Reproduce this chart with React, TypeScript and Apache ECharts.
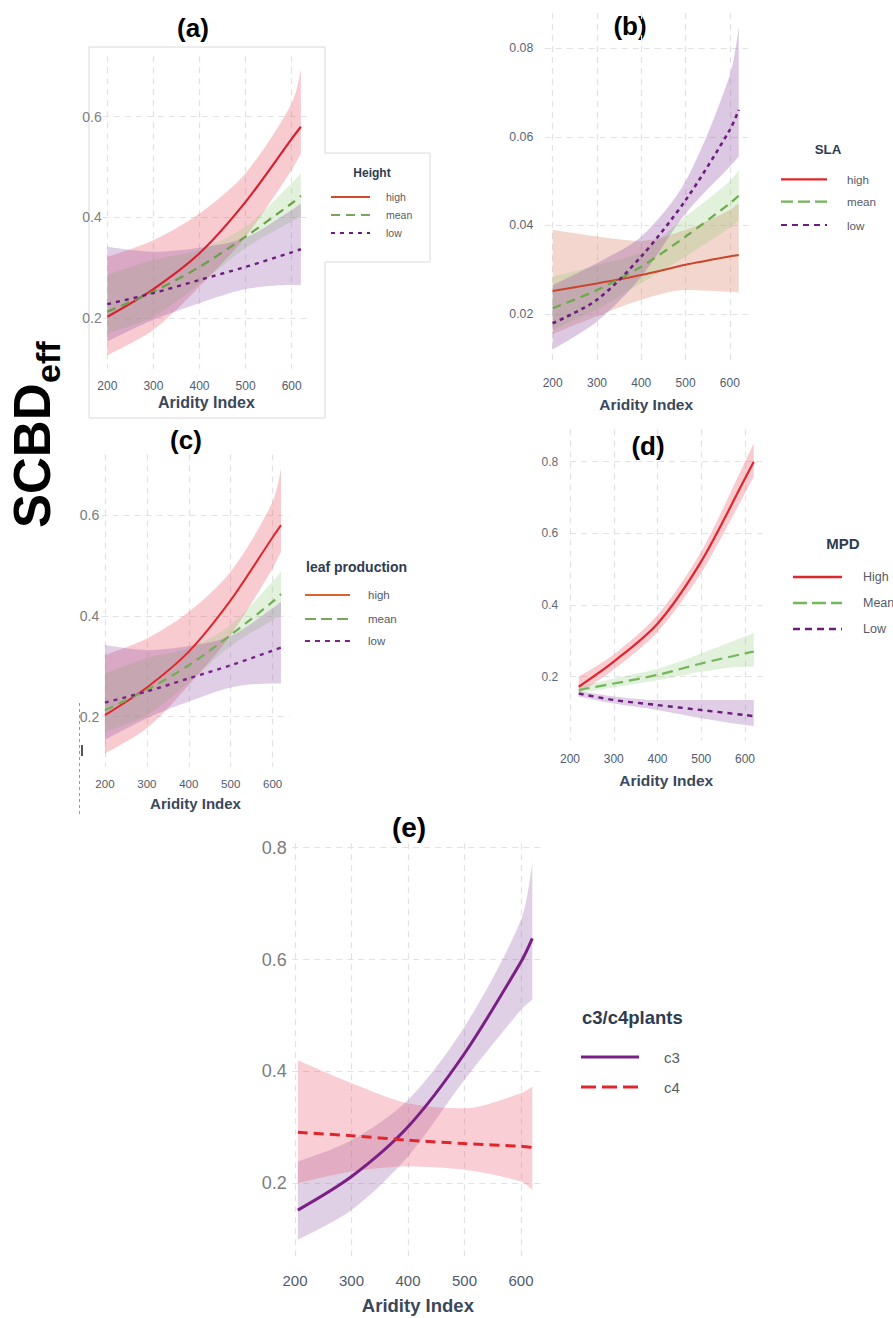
import React, { useEffect, useRef } from "react";
import * as echarts from "echarts";

// ---------- data ----------
const X_TICKS = [200, 300, 400, 500, 600];
const xsAC = [200, 300, 400, 500, 600, 620];
const xsB = [200, 300, 400, 500, 600, 620];
const xsD = [220, 300, 400, 500, 600, 620];
const xsE = [205, 300, 400, 500, 600, 620];

// (a) Height
const aHigh = [0.203, 0.258, 0.329, 0.431, 0.556, 0.58];
const aHighUp = [0.322, 0.355, 0.408, 0.488, 0.626, 0.693];
const aHighLo = [0.127, 0.177, 0.263, 0.362, 0.494, 0.527];
const aMean = [0.213, 0.253, 0.302, 0.362, 0.428, 0.443];
const aMeanUp = [0.286, 0.316, 0.336, 0.382, 0.468, 0.488];
const aMeanLo = [0.17, 0.203, 0.268, 0.34, 0.392, 0.402];
const aLow = [0.228, 0.25, 0.276, 0.302, 0.331, 0.337];
const aLowUp = [0.342, 0.332, 0.34, 0.36, 0.415, 0.428];
const aLowLo = [0.154, 0.197, 0.23, 0.258, 0.266, 0.266];

// (c) leaf production
const cHigh = [0.203, 0.258, 0.329, 0.431, 0.556, 0.58];
const cHighUp = [0.322, 0.355, 0.408, 0.488, 0.626, 0.693];
const cHighLo = [0.127, 0.177, 0.263, 0.362, 0.494, 0.527];
const cMean = [0.213, 0.253, 0.302, 0.362, 0.428, 0.443];
const cMeanUp = [0.286, 0.316, 0.336, 0.382, 0.468, 0.488];
const cMeanLo = [0.17, 0.203, 0.268, 0.34, 0.392, 0.402];
const cLow = [0.228, 0.25, 0.276, 0.302, 0.331, 0.337];
const cLowUp = [0.342, 0.332, 0.34, 0.36, 0.415, 0.428];
const cLowLo = [0.154, 0.197, 0.23, 0.258, 0.266, 0.266];

// (b) SLA
const bHigh = [0.0252, 0.0269, 0.0288, 0.0311, 0.033, 0.0333];
const bHighUp = [0.039, 0.0375, 0.0365, 0.039, 0.0435, 0.045];
const bHighLo = [0.0155, 0.0195, 0.0232, 0.0254, 0.025, 0.0248];
const bMean = [0.0213, 0.0254, 0.0307, 0.0375, 0.045, 0.0467];
const bMeanUp = [0.0284, 0.031, 0.034, 0.042, 0.05, 0.0525];
const bMeanLo = [0.0164, 0.021, 0.027, 0.033, 0.0395, 0.041];
const bLow = [0.0179, 0.0232, 0.033, 0.0457, 0.0616, 0.0661];
const bLowUp = [0.0265, 0.0315, 0.0375, 0.05, 0.074, 0.0849];
const bLowLo = [0.012, 0.0183, 0.0284, 0.0427, 0.0533, 0.0555];

// (d) MPD
const dHigh = [0.172, 0.242, 0.348, 0.522, 0.753, 0.8];
const dHighUp = [0.2, 0.262, 0.372, 0.55, 0.8, 0.851];
const dHighLo = [0.153, 0.22, 0.325, 0.49, 0.712, 0.758];
const dMean = [0.163, 0.181, 0.205, 0.237, 0.265, 0.27];
const dMeanUp = [0.172, 0.195, 0.222, 0.265, 0.312, 0.321];
const dMeanLo = [0.155, 0.17, 0.19, 0.214, 0.228, 0.228];
const dLow = [0.153, 0.135, 0.121, 0.107, 0.093, 0.09];
const dLowUp = [0.16, 0.145, 0.135, 0.135, 0.135, 0.135];
const dLowLo = [0.145, 0.125, 0.107, 0.084, 0.065, 0.062];

// (e) c3/c4 plants
const eC3 = [0.152, 0.212, 0.301, 0.432, 0.596, 0.638];
const eC3Up = [0.239, 0.277, 0.349, 0.48, 0.671, 0.775];
const eC3Lo = [0.099, 0.152, 0.248, 0.385, 0.51, 0.528];
const eC4 = [0.291, 0.285, 0.277, 0.271, 0.266, 0.264];
const eC4Up = [0.42, 0.379, 0.343, 0.334, 0.361, 0.373];
const eC4Lo = [0.2, 0.221, 0.23, 0.224, 0.203, 0.188];

const Y_TICKS_AC = [0.2, 0.4, 0.6];
const Y_TICKS_B = [0.02, 0.04, 0.06, 0.08];
const Y_TICKS_DE = [0.2, 0.4, 0.6, 0.8];

// ---------- styling ----------
const FONT = "'Liberation Sans', Arial, sans-serif";
const RED = "#e0262d";
const PURPLE = "#6c1d7e";
const BAND_RED = "rgba(232, 84, 104, 0.30)";
const BAND_GREEN = "rgba(140, 200, 110, 0.25)";
const BAND_PURPLE = "rgba(140, 80, 160, 0.28)";
const SMOOTH = 0.3;

const gridLine = { show: true, lineStyle: { color: "#e2e2e2", type: [6, 5], width: 1.2 } };

function xAxis(gridIndex: number, min: number, labelSize: number, margin: number, nameSize: number, nameGap: number) {
  return {
    type: "value", gridIndex, min, max: 640,
    axisLine: { show: false },
    axisTick: { show: false, customValues: X_TICKS },
    axisLabel: { customValues: X_TICKS, fontSize: labelSize, color: "#4f5b6e", margin, fontFamily: FONT },
    splitLine: gridLine,
    name: "Aridity Index", nameLocation: "middle", nameGap,
    nameTextStyle: { fontWeight: "bold", fontSize: nameSize, color: "#3b475a", fontFamily: FONT },
  };
}

function yAxis(gridIndex: number, min: number, max: number, ticks: number[], digits: number, labelSize: number, color: string, margin: number) {
  return {
    type: "value", gridIndex, min, max,
    axisLine: { show: false },
    axisTick: { show: false, customValues: ticks },
    axisLabel: {
      customValues: ticks, fontSize: labelSize, color, margin, fontFamily: FONT,
      formatter: (v: number) => v.toFixed(digits),
    },
    splitLine: gridLine,
  };
}

// Confidence band: lower + (upper - lower) stacked on y (y is put first so that it is the stacked dimension)
function band(id: string, idx: number, xs: number[], lo: number[], up: number[], color: string) {
  return [
    {
      type: "line", xAxisIndex: idx, yAxisIndex: idx, stack: id, silent: true,
      data: xs.map((x, i) => [lo[i], x]), encode: { x: 1, y: 0 }, symbol: "none",
      smooth: SMOOTH,
      lineStyle: { opacity: 0, width: 0 }, z: 1,
    },
    {
      type: "line", xAxisIndex: idx, yAxisIndex: idx, stack: id, silent: true,
      data: xs.map((x, i) => [up[i] - lo[i], x]), encode: { x: 1, y: 0 }, symbol: "none",
      smooth: SMOOTH,
      lineStyle: { opacity: 0, width: 0 }, areaStyle: { color, opacity: 1 }, z: 1,
    },
  ];
}

function curve(idx: number, xs: number[], ys: number[], color: string, width: number, type: any) {
  return {
    type: "line", xAxisIndex: idx, yAxisIndex: idx, silent: true,
    data: xs.map((x, i) => [x, ys[i]]), symbol: "none", smooth: SMOOTH,
    lineStyle: { color, width, type }, z: 3,
  };
}

function legend(
  title: string, tx: number, ty: number, tAlign: string, tSize: number,
  labels: string[], colors: string[], dashes: any[], ys: number[],
  lx1: number, lx2: number, textX: number, size: number, lw: number
) {
  const els: any[] = [
    {
      type: "text", x: tx, y: ty,
      style: { text: title, fill: "#2f3c4f", fontSize: tSize, fontWeight: "bold", fontFamily: FONT, align: tAlign, verticalAlign: "middle", textAlign: tAlign, textVerticalAlign: "middle" },
    },
  ];
  labels.forEach((lab, i) => {
    els.push({
      type: "line", shape: { x1: lx1, y1: ys[i], x2: lx2, y2: ys[i] },
      style: { stroke: colors[i], lineWidth: lw, lineDash: dashes[i] },
    });
    els.push({
      type: "text", x: textX, y: ys[i],
      style: { text: lab, fill: "#555b66", fontSize: size, fontFamily: FONT, align: "left", verticalAlign: "middle", textAlign: "left", textVerticalAlign: "middle" },
    });
  });
  return els;
}

function panelLabel(text: string, x: number, y: number, size: number) {
  return {
    type: "text", x, y,
    style: { text, fill: "#000", fontSize: size, fontWeight: "bold", fontFamily: FONT, align: "center", verticalAlign: "middle", textAlign: "center", textVerticalAlign: "middle" },
  };
}

export default function App() {
  const ref = useRef<HTMLDivElement>(null);
  useEffect(() => {
    if (!ref.current) return;
    const chart = echarts.init(ref.current, null, { renderer: "svg" });

    const grids = [
      { left: 102.7, top: 56.2, width: 207.4, height: 312.5 }, // a
      { left: 544.7, top: 12.9, width: 202.9, height: 352 }, // b
      { left: 101.6, top: 454.5, width: 187.8, height: 312.6 }, // c
      { left: 570, top: 429.5, width: 192.5, height: 311 }, // d
      { left: 292.2, top: 843.2, width: 251.4, height: 415 }, // e
    ];

    const xAxes = [
      xAxis(0, 190, 12, 11, 16, 26),
      xAxis(1, 182, 12, 12.5, 15.5, 32),
      xAxis(2, 192, 11.5, 10.4, 15, 28.7),
      xAxis(3, 200, 12, 12, 15.5, 31.7),
      xAxis(4, 195, 15, 14.3, 18.5, 37.5),
    ];
    const yAxes = [
      yAxis(0, 0.1, 0.72, Y_TICKS_AC, 1, 14, "#808080", 1),
      yAxis(1, 0.0085, 0.088, Y_TICKS_B, 2, 12.3, "#5b6576", 11.4),
      yAxis(2, 0.1, 0.72, Y_TICKS_AC, 1, 14, "#7a7a7a", 2.3),
      yAxis(3, 0.022, 0.89, Y_TICKS_DE, 1, 12, "#5f6a7a", 11.7),
      yAxis(4, 0.066, 0.808, Y_TICKS_DE, 1, 18, "#7d7d7d", 5.5),
    ];

    const series: any[] = [
      // (a)
      ...band("aH", 0, xsAC, aHighLo, aHighUp, BAND_RED),
      ...band("aM", 0, xsAC, aMeanLo, aMeanUp, BAND_GREEN),
      ...band("aL", 0, xsAC, aLowLo, aLowUp, BAND_PURPLE),
      curve(0, xsAC, aHigh, "#d8202e", 2.2, "solid"),
      curve(0, xsAC, aMean, "#6b9f4b", 2.2, [9, 6]),
      curve(0, xsAC, aLow, PURPLE, 2.4, [4, 5]),
      // (b)
      ...band("bH", 1, xsB, bHighLo, bHighUp, "rgba(214, 122, 92, 0.30)"),
      ...band("bM", 1, xsB, bMeanLo, bMeanUp, BAND_GREEN),
      ...band("bL", 1, xsB, bLowLo, bLowUp, "rgba(145, 85, 165, 0.32)"),
      curve(1, xsB, bHigh, "#c8462c", 2, "solid"),
      curve(1, xsB, bMean, "#6aaa4b", 2.2, [9, 6]),
      curve(1, xsB, bLow, PURPLE, 2.6, [4, 4]),
      // (c)
      ...band("cH", 2, xsAC, cHighLo, cHighUp, BAND_RED),
      ...band("cM", 2, xsAC, cMeanLo, cMeanUp, BAND_GREEN),
      ...band("cL", 2, xsAC, cLowLo, cLowUp, BAND_PURPLE),
      curve(2, xsAC, cHigh, RED, 2, "solid"),
      curve(2, xsAC, cMean, "#73ad55", 2.2, [9, 6]),
      curve(2, xsAC, cLow, "#7a2489", 2.4, [4, 5]),
      // (d)
      ...band("dH", 3, xsD, dHighLo, dHighUp, BAND_RED),
      ...band("dM", 3, xsD, dMeanLo, dMeanUp, BAND_GREEN),
      ...band("dL", 3, xsD, dLowLo, dLowUp, BAND_PURPLE),
      curve(3, xsD, dHigh, RED, 2.2, "solid"),
      curve(3, xsD, dMean, "#74b65a", 2.2, [11, 6]),
      curve(3, xsD, dLow, PURPLE, 2.4, [5, 5]),
      // (e)
      ...band("eC3", 4, xsE, eC3Lo, eC3Up, "rgba(140, 80, 160, 0.27)"),
      ...band("eC4", 4, xsE, eC4Lo, eC4Up, "rgba(232, 84, 104, 0.28)"),
      curve(4, xsE, eC3, "#7a1f86", 3, "solid"),
      curve(4, xsE, eC4, RED, 3, [10, 6]),
    ];

    const graphic: any[] = [
      {
        type: "polygon", silent: true,
        shape: { points: [[89, 47], [325, 47], [325, 153], [430, 153], [430, 262], [325, 262], [325, 418], [89, 418]] },
        style: { fill: "none", stroke: "#dadada", lineWidth: 1 },
      },
      panelLabel("(a)", 193, 28, 26),
      panelLabel("(b)", 630, 26, 26),
      panelLabel("(c)", 186, 440, 26),
      panelLabel("(d)", 648, 446, 26),
      panelLabel("(e)", 409, 827, 28),
      ...legend("Height", 372, 173, "center", 12, ["high", "mean", "low"], ["#cf4a2b", "#78a55b", PURPLE],
        [null, [9, 6], [4, 5]], [197, 215, 233], 331, 370, 386, 10.5, 2),
      ...legend("SLA", 828, 149, "center", 13.3, ["high", "mean", "low"], ["#e0262c", "#74b35a", PURPLE],
        [null, [12, 5], [6, 5]], [179.3, 201.7, 225], 781, 827, 847, 11.6, 2.2),
      ...legend("leaf production", 306, 567, "left", 14, ["high", "mean", "low"], ["#d9622f", "#78a55b", "#7a2489"],
        [null, [11, 5], [5, 5]], [595, 619, 641], 305, 350, 368, 11.5, 2),
      ...legend("MPD", 843, 543, "center", 15, ["High", "Mean", "Low"], [RED, "#74b65a", PURPLE],
        [null, [14, 5], [7, 5]], [577, 603, 629], 793, 842, 863, 12.5, 2.4),
      ...legend("c3/c4plants", 582, 1017, "left", 18.5, ["c3", "c4"], ["#7a1f86", RED],
        [null, [15, 6]], [1057, 1087], 581, 639, 664, 15, 3),
      {
        type: "group", x: 50, y: 528, rotation: Math.PI / 2,
        children: [
          {
            type: "text", x: 0, y: -18,
            style: { text: "SCBD", fill: "#000", fontSize: 51, fontWeight: "bold", fontFamily: FONT, align: "left", verticalAlign: "middle", textAlign: "left", textVerticalAlign: "middle" },
          },
          {
            type: "text", x: 145, y: -2,
            style: { text: "eff", fill: "#000", fontSize: 34, fontWeight: "bold", fontFamily: FONT, align: "left", verticalAlign: "middle", textAlign: "left", textVerticalAlign: "middle" },
          },
        ],
      },
      { type: "line", silent: true, shape: { x1: 79.5, y1: 703, x2: 79.5, y2: 817 }, style: { stroke: "#9a9a9a", lineWidth: 1, lineDash: [3, 3] } },
      { type: "line", silent: true, shape: { x1: 82, y1: 745, x2: 82, y2: 756 }, style: { stroke: "#555", lineWidth: 2 } },
    ];

    chart.setOption({
      animation: false,
      backgroundColor: "#ffffff",
      grid: grids,
      xAxis: xAxes,
      yAxis: yAxes,
      series,
      graphic,
    });
    return () => chart.dispose();
  }, []);

  return <div ref={ref} style={{ position: "absolute", left: 0, top: 0, width: 893, height: 1318 }} />;
}
